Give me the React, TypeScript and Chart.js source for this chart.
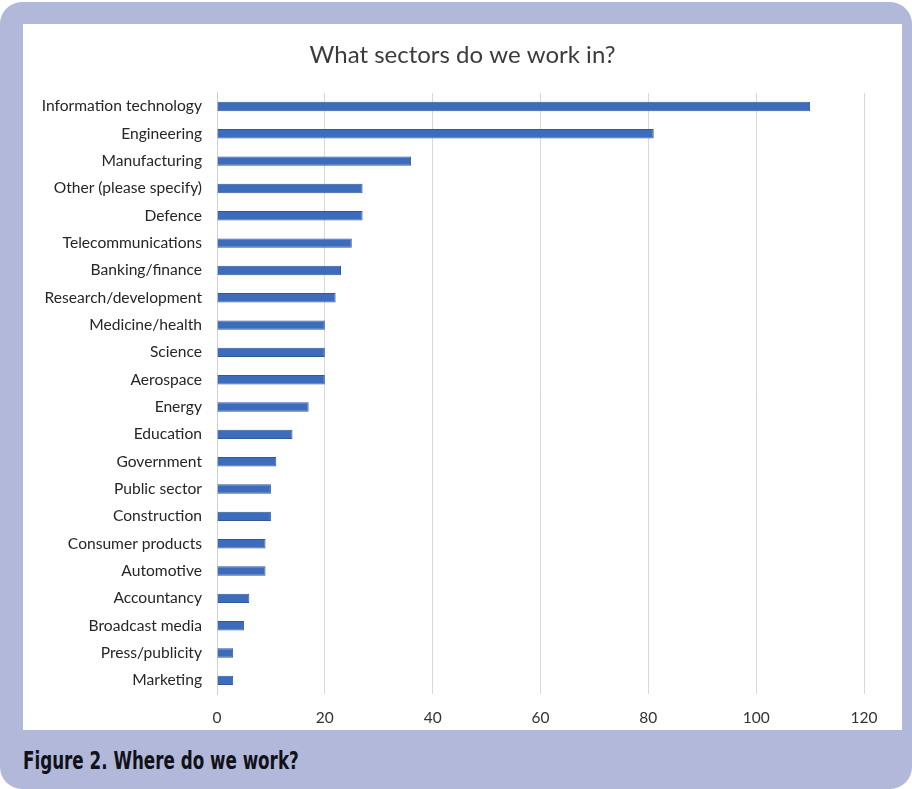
import React, { useEffect, useRef } from "react";
import { Chart, registerables } from "chart.js";

Chart.register(...registerables);

const categories = [
  "Information technology",
  "Engineering",
  "Manufacturing",
  "Other (please specify)",
  "Defence",
  "Telecommunications",
  "Banking/finance",
  "Research/development",
  "Medicine/health",
  "Science",
  "Aerospace",
  "Energy",
  "Education",
  "Government",
  "Public sector",
  "Construction",
  "Consumer products",
  "Automotive",
  "Accountancy",
  "Broadcast media",
  "Press/publicity",
  "Marketing",
];

const counts = [110, 81, 36, 27, 27, 25, 23, 22, 20, 20, 20, 17, 14, 11, 10, 10, 9, 9, 6, 5, 3, 3];

const xTicks = [0, 20, 40, 60, 80, 100, 120];

const chartTitle = "What sectors do we work in?";
const figureCaption = "Figure 2. Where do we work?";

export default function App() {
  const canvasRef = useRef<HTMLCanvasElement | null>(null);

  useEffect(() => {
    document.body.style.margin = "0";
    const ctx = canvasRef.current;
    if (!ctx) return;
    const chart = new Chart(ctx, {
      type: "bar",
      data: {
        labels: categories,
        datasets: [
          {
            data: counts,
            backgroundColor: "#3e6cbd",
            borderColor: "#30599c",
            borderWidth: 1,
            categoryPercentage: 0.8,
            barPercentage: 0.43,
          },
        ],
      },
      options: {
        indexAxis: "y",
        animation: false,
        responsive: false,
        maintainAspectRatio: false,
        layout: { padding: { left: 0, right: 0, top: 1, bottom: 3 } },
        plugins: {
          legend: { display: false },
          tooltip: { enabled: false },
          title: {
            display: true,
            text: chartTitle,
            color: "#3b3b3b",
            font: { family: "Lato", size: 24, weight: "normal" },
            padding: { top: 16, bottom: 23 },
          },
        },
        scales: {
          x: {
            min: xTicks[0],
            max: xTicks[xTicks.length - 1],
            afterBuildTicks: (scale: any) => {
              scale.ticks = xTicks.map((v) => ({ value: v }));
            },
            afterFit: (scale: any) => {
              scale.height = 33;
            },
            grid: { color: "#d9d9d9", lineWidth: 1, drawTicks: false },
            border: { display: false },
            ticks: {
              color: "#333333",
              font: { family: "Lato", size: 15.5 },
              padding: 15,
            },
          },
          y: {
            afterFit: (scale: any) => {
              scale.width = 194;
            },
            grid: { display: false, drawTicks: false },
            border: { display: true, color: "#d0d0d0" },
            ticks: {
              color: "#262626",
              font: { family: "Lato", size: 15.6 },
              padding: 15,
              autoSkip: false,
            },
          },
          yRightSpace: {
            type: "linear",
            position: "right",
            display: true,
            afterFit: (scale: any) => {
              scale.width = 38;
            },
            grid: { display: false, drawTicks: false },
            border: { display: false },
            ticks: { display: false },
          },
        },
      },
    });
    return () => chart.destroy();
  }, []);

  return (
    <div
      style={{
        position: "absolute",
        left: 0,
        top: 0,
        width: 912,
        height: 789,
        background: "#ffffff",
      }}
    >
      <div
        style={{
          position: "absolute",
          left: 0,
          top: 2,
          width: 912,
          height: 787,
          background: "#b1b8da",
          borderRadius: 22,
        }}
      />
      <div
        style={{
          position: "absolute",
          left: 23,
          top: 24,
          width: 879,
          height: 706,
          background: "#ffffff",
        }}
      >
        <canvas ref={canvasRef} width={879} height={706} style={{ display: "block" }} />
      </div>
      <div
        style={{
          position: "absolute",
          left: 23,
          top: 746,
          fontFamily: "'DejaVu Sans Condensed', 'DejaVu Sans', sans-serif",
          fontStretch: "condensed",
          fontWeight: "bold",
          fontSize: 24.5,
          color: "#111118",
          lineHeight: "30px",
          whiteSpace: "nowrap",
          transform: "scaleX(0.76)",
          transformOrigin: "left top",
        }}
      >
        {figureCaption}
      </div>
    </div>
  );
}
